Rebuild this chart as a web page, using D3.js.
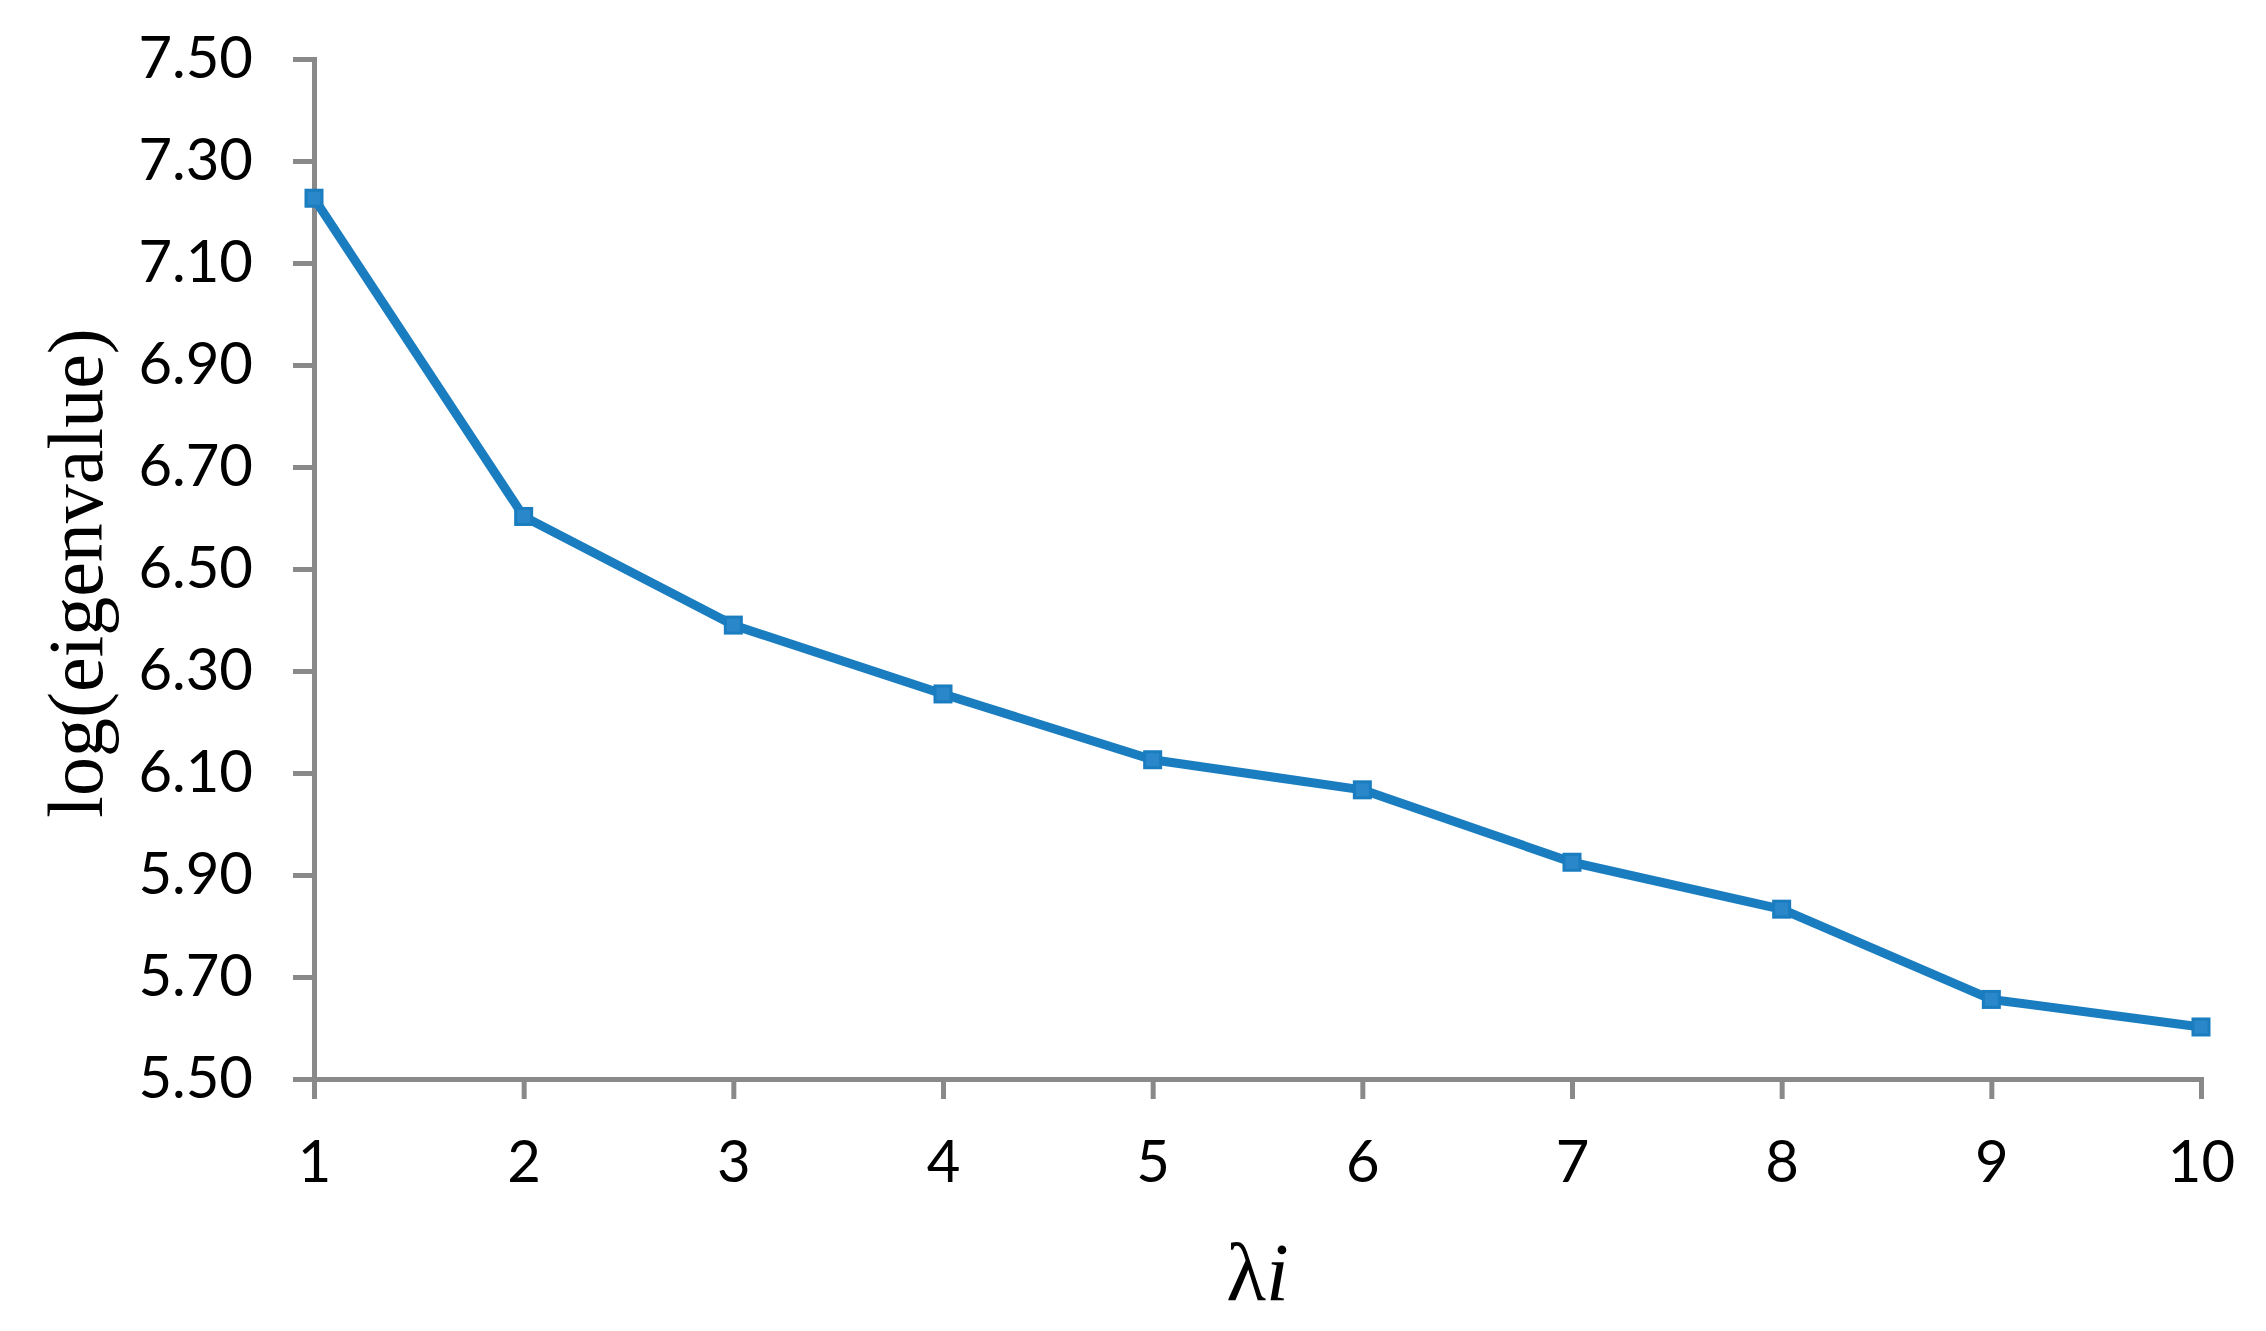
<!DOCTYPE html>
<html>
<head>
<meta charset="utf-8">
<script src="https://cdn.jsdelivr.net/npm/d3@7"></script>
<style>
  html, body { margin: 0; padding: 0; background: #fff; }
</style>
</head>
<body>
<svg id="chart"></svg>
<script>
const WIDTH = 2266;
const HEIGHT = 1331;

// values
const components = [1, 2, 3, 4, 5, 6, 7, 8, 9, 10];
const logEigenvalues = [7.227, 6.603, 6.390, 6.255, 6.126, 6.067, 5.925, 5.833, 5.656, 5.602];
const yTicks = [5.5, 5.7, 5.9, 6.1, 6.3, 6.5, 6.7, 6.9, 7.1, 7.3, 7.5];

const AXIS_GREY = '#898989';
const LINE_BLUE = '#1a7dc0';

const margin = { top: 59, right: 65, bottom: 252, left: 314 };

const svg = d3.select('#chart')
  .attr('width', WIDTH)
  .attr('height', HEIGHT);

const x = d3.scaleLinear()
  .domain([1, 10])
  .range([margin.left, WIDTH - margin.right]);

const y = d3.scaleLinear()
  .domain([5.5, 7.5])
  .range([HEIGHT - margin.bottom, margin.top]);

const styleAxis = (g) => {
  g.select('.domain').attr('stroke', AXIS_GREY).attr('stroke-width', 5);
  g.selectAll('.tick line').attr('stroke', AXIS_GREY).attr('stroke-width', 5);
  g.selectAll('.tick text')
    .attr('fill', '#000')
    .attr('font-family', 'Lato, sans-serif')
    .attr('font-size', 58);
};

// y axis
svg.append('g')
  .attr('transform', `translate(${margin.left},0)`)
  .call(d3.axisLeft(y)
    .tickValues(yTicks)
    .tickFormat(d3.format('.2f'))
    .tickSize(21)
    .tickSizeOuter(21)
    .tickPadding(40))
  .call(styleAxis);

// x axis
svg.append('g')
  .attr('transform', `translate(0,${y(5.5)})`)
  .call(d3.axisBottom(x)
    .tickValues(components)
    .tickFormat(d3.format('d'))
    .tickSize(20)
    .tickSizeOuter(20)
    .tickPadding(42))
  .call(styleAxis);

// series line
const line = d3.line()
  .x((d, i) => x(components[i]))
  .y(d => y(d));

svg.append('path')
  .datum(logEigenvalues)
  .attr('d', line)
  .attr('fill', 'none')
  .attr('stroke', LINE_BLUE)
  .attr('stroke-width', 9)
  .attr('stroke-linejoin', 'round');

// square markers
const MARKER = 16;
svg.selectAll('rect.marker')
  .data(logEigenvalues)
  .enter()
  .append('rect')
  .attr('class', 'marker')
  .attr('x', (d, i) => x(components[i]) - MARKER / 2)
  .attr('y', d => y(d) - MARKER / 2)
  .attr('width', MARKER)
  .attr('height', MARKER)
  .attr('fill', '#2a87c9')
  .attr('stroke', LINE_BLUE)
  .attr('stroke-width', 3);

// axis titles
svg.append('text')
  .attr('transform', 'translate(102,573) rotate(-90)')
  .attr('text-anchor', 'middle')
  .attr('font-family', '"Liberation Serif", "Times New Roman", serif')
  .attr('font-size', 78)
  .attr('fill', '#000')
  .text('log(eigenvalue)');

const xTitle = svg.append('text')
  .attr('x', (x(5) + x(6)) / 2)
  .attr('y', 1300)
  .attr('text-anchor', 'middle')
  .attr('font-family', '"Liberation Serif", "Times New Roman", serif')
  .attr('font-size', 82)
  .attr('fill', '#000');
xTitle.append('tspan').text('λ');
xTitle.append('tspan').attr('font-style', 'italic').text('i');
</script>
</body>
</html>
